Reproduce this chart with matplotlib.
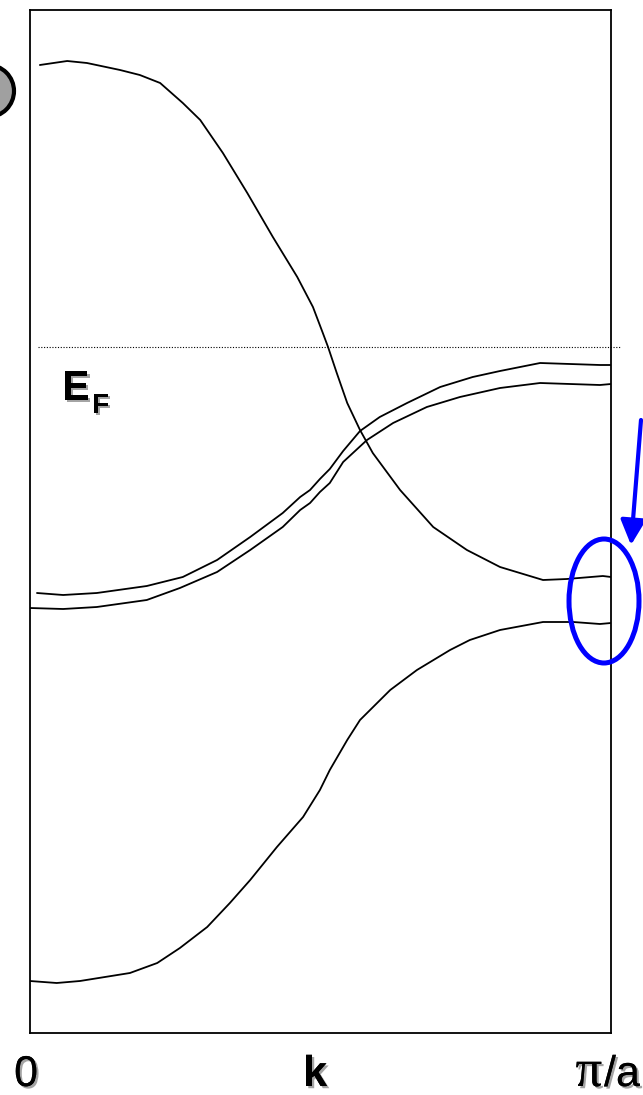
import matplotlib
matplotlib.use("Agg")
import matplotlib.pyplot as plt
import matplotlib.patheffects as pe
from matplotlib.patches import Ellipse, FancyArrowPatch

# Band structure along k (units of pi/a), energies relative to E_F
k_top = [0.017, 0.064, 0.098, 0.155, 0.189, 0.224, 0.263, 0.293, 0.332, 0.374,
         0.418, 0.460, 0.487, 0.504, 0.513, 0.528, 0.546, 0.568, 0.590, 0.637,
         0.694, 0.752, 0.809, 0.883, 0.924, 0.986, 1.0]
e_top = [2.82, 2.86, 2.84, 2.77, 2.72, 2.64, 2.44, 2.27, 1.94, 1.54,
         1.10, 0.70, 0.40, 0.14, 0.00, -0.26, -0.56, -0.83, -1.06, -1.43,
         -1.80, -2.03, -2.20, -2.33, -2.32, -2.29, -2.30]

k_mid1 = [0.012, 0.057, 0.115, 0.201, 0.263, 0.322, 0.379, 0.435, 0.465, 0.482,
          0.499, 0.516, 0.539, 0.568, 0.602, 0.649, 0.706, 0.762, 0.809, 0.878,
          0.981, 1.0]
e_mid1 = [-2.46, -2.48, -2.46, -2.39, -2.30, -2.13, -1.90, -1.66, -1.50, -1.43,
          -1.32, -1.22, -1.04, -0.84, -0.70, -0.56, -0.40, -0.30, -0.24, -0.16,
          -0.18, -0.18]

k_mid2 = [0.0, 0.057, 0.115, 0.201, 0.258, 0.322, 0.379, 0.435, 0.465, 0.482,
          0.499, 0.516, 0.539, 0.580, 0.625, 0.683, 0.740, 0.809, 0.878, 0.981,
          1.0]
e_mid2 = [-2.61, -2.62, -2.60, -2.53, -2.41, -2.25, -2.03, -1.80, -1.63, -1.56,
          -1.45, -1.36, -1.15, -0.93, -0.76, -0.60, -0.50, -0.41, -0.36, -0.38,
          -0.37]

k_low = [0.0, 0.046, 0.086, 0.172, 0.219, 0.258, 0.305, 0.344, 0.379, 0.425,
         0.470, 0.499, 0.516, 0.546, 0.568, 0.620, 0.666, 0.723, 0.757, 0.809,
         0.883, 0.935, 0.981, 1.0]
e_low = [-6.34, -6.36, -6.34, -6.26, -6.16, -6.01, -5.80, -5.56, -5.33, -5.00,
         -4.70, -4.43, -4.23, -3.93, -3.73, -3.43, -3.23, -3.03, -2.93, -2.83,
         -2.75, -2.75, -2.77, -2.76]

e_fermi = 0.0
k_labels = ["0", "k", "π", "/a"]

W, H, DPI = 643, 1095, 100
fig = plt.figure(figsize=(W / DPI, H / DPI), dpi=DPI)
fig.patch.set_facecolor("white")

ax = fig.add_axes([30 / W, 62 / H, 581 / W, 1023 / H])
ax.set_xlim(0, 1)
ax.set_ylim(-6.86, 3.37)
ax.set_xticks([])
ax.set_yticks([])
for sp in ax.spines.values():
    sp.set_linewidth(1.3)
    sp.set_color("black")

for kk, ee in [(k_top, e_top), (k_mid1, e_mid1), (k_mid2, e_mid2), (k_low, e_low)]:
    ax.plot(kk, ee, color="black", lw=1.3, solid_joinstyle="round",
            solid_capstyle="round")

# Fermi level
ax.plot([0.014, 1.016], [e_fermi, e_fermi], color="black", lw=0.8,
        linestyle=(0, (1, 1.5)), clip_on=False)

shadow = [pe.withSimplePatchShadow(offset=(1.6, -1.6), shadow_rgbFace="#9a9a9a", alpha=0.9),
          pe.Normal()]

ax.text(0.055, -0.53, "E", fontsize=30, fontweight="bold", family="Liberation Sans",
        ha="left", va="baseline", path_effects=shadow)
ax.text(0.107, -0.66, "F", fontsize=20, fontweight="bold", family="Liberation Sans",
        ha="left", va="baseline", path_effects=shadow)

inch = fig.dpi_scale_trans
base = 9 / DPI
# k-axis labels below the frame
fig.text(26 / DPI, base, k_labels[0], transform=inch, fontsize=31,
         family="Liberation Sans", ha="center", va="baseline", path_effects=shadow)
fig.text(315 / DPI, base, k_labels[1], transform=inch, fontsize=31, fontweight="bold",
         family="Liberation Sans", ha="center", va="baseline", path_effects=shadow)
fig.text(602 / DPI, base, k_labels[2], transform=inch, fontsize=38,
         family="Liberation Serif", ha="right", va="baseline", path_effects=shadow)
fig.text(640 / DPI, base, k_labels[3], transform=inch, fontsize=31,
         family="Liberation Sans", ha="right", va="baseline", path_effects=shadow)

# partial grey disc at the top-left edge
fig.add_artist(Ellipse((-12 / DPI, (H - 91) / DPI), 52 / DPI, 52 / DPI, transform=inch,
                       facecolor="#a0a0a0", edgecolor="black", lw=3.0))

# highlight ring at the zone boundary and pointer arrow
fig.add_artist(Ellipse((604 / DPI, (H - 601) / DPI), 70 / DPI, 124 / DPI, transform=inch,
                       facecolor="none", edgecolor="#0000ff", lw=3.6, zorder=5))
fig.add_artist(FancyArrowPatch((641 / DPI, (H - 420) / DPI), (631 / DPI, (H - 545) / DPI),
                               transform=inch, arrowstyle="-|>,head_length=1.0,head_width=0.5",
                               mutation_scale=15, color="#0000ff", lw=3.0, zorder=6,
                               shrinkA=0, shrinkB=0))

fig.savefig("out.png", dpi=DPI, facecolor="white")
